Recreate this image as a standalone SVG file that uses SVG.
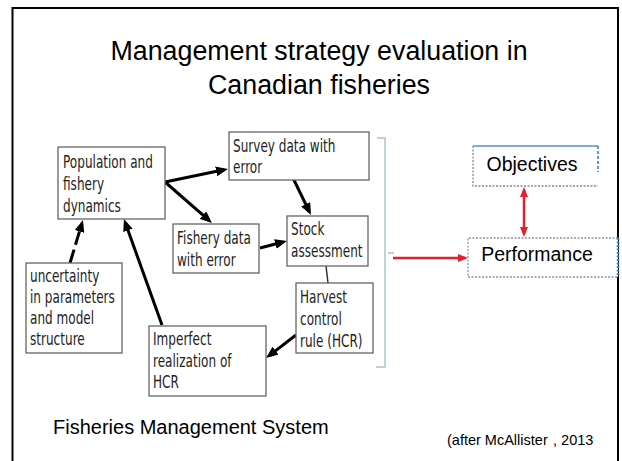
<svg xmlns="http://www.w3.org/2000/svg" width="622" height="461" viewBox="0 0 622 461">
<style>
.box{fill:#fff;stroke:#666;stroke-width:1.3}
.bt{font-family:"DejaVu Sans",Verdana,sans-serif;font-size:17px;fill:#222}
.ar{font-family:"Liberation Sans",Arial,sans-serif;fill:#000}
.con{stroke:#000;stroke-width:3;fill:none}
.red{stroke:#e3212b;stroke-width:2.5;fill:none}
</style>
<defs>
<marker id="ah" markerUnits="userSpaceOnUse" markerWidth="12" markerHeight="10" refX="8" refY="5" orient="auto" viewBox="0 0 12 10"><path d="M0,0 L12,5 L0,10 z" fill="#000"/></marker>
<marker id="rh" markerUnits="userSpaceOnUse" markerWidth="10" markerHeight="8" refX="7" refY="4" orient="auto-start-reverse" viewBox="0 0 10 8"><path d="M0,0 L10,4 L0,8 z" fill="#e3212b"/></marker>
</defs>
<rect width="622" height="461" fill="#fff"/>
<path d="M12.5,470 V8 H618 V470" fill="none" stroke="#000" stroke-width="2"/>
<g id="title" class="ar" font-size="26.8" text-anchor="middle">
<text x="319" y="60">Management strategy evaluation in</text>
<text x="319" y="94">Canadian fisheries</text>
</g>
<g id="connectors">
<line class="con" x1="165" y1="182" x2="224" y2="169.8" marker-end="url(#ah)"/>
<line class="con" x1="165" y1="182" x2="209" y2="220.4" marker-end="url(#ah)"/>
<line class="con" x1="293" y1="178" x2="309.2" y2="211.4" marker-end="url(#ah)"/>
<line class="con" x1="260" y1="248" x2="283.1" y2="242" marker-end="url(#ah)"/>
<line x1="326" y1="266" x2="328" y2="283" stroke="#333" stroke-width="1.5"/>
<line class="con" x1="296" y1="335" x2="269.2" y2="355.6" marker-end="url(#ah)"/>
<line class="con" x1="162" y1="325" x2="125.3" y2="222.8" marker-end="url(#ah)"/>
<line class="con" x1="70" y1="263" x2="81.8" y2="223.8" stroke-dasharray="14 5" marker-end="url(#ah)"/>
<path d="M377,138 H385 V367 H376" fill="none" stroke="#a9c6cc" stroke-width="1.5"/>
<path d="M388,253 H394" stroke="#aaa" stroke-width="1.2"/>
<line class="red" x1="393" y1="258" x2="465" y2="258" marker-end="url(#rh)"/>
<line class="red" x1="524" y1="190" x2="524" y2="234" marker-start="url(#rh)" marker-end="url(#rh)"/>
</g>
<g id="population">
<rect class="box" x="58" y="147" width="107" height="72"/>
<text class="bt" transform="translate(63,168) scale(0.71,1)">Population and</text>
<text class="bt" transform="translate(63,190) scale(0.71,1)">fishery</text>
<text class="bt" transform="translate(63,212) scale(0.71,1)">dynamics</text>
</g>
<g id="survey">
<rect class="box" x="229" y="132" width="140" height="48"/>
<text class="bt" transform="translate(233,152) scale(0.71,1)">Survey data with</text>
<text class="bt" transform="translate(233,173) scale(0.71,1)">error</text>
</g>
<g id="fishery">
<rect class="box" x="173" y="224" width="86" height="49"/>
<text class="bt" transform="translate(177,244) scale(0.71,1)">Fishery data</text>
<text class="bt" transform="translate(177,266) scale(0.71,1)">with error</text>
</g>
<g id="stock">
<rect class="box" x="287" y="216" width="81" height="50"/>
<text class="bt" transform="translate(291,235) scale(0.71,1)">Stock</text>
<text class="bt" transform="translate(291,257) scale(0.71,1)">assessment</text>
</g>
<g id="harvest">
<rect class="box" x="296" y="283" width="77" height="70"/>
<text class="bt" transform="translate(300,303) scale(0.71,1)">Harvest</text>
<text class="bt" transform="translate(300,325) scale(0.71,1)">control</text>
<text class="bt" transform="translate(300,347) scale(0.71,1)">rule (HCR)</text>
</g>
<g id="imperfect">
<rect class="box" x="149" y="326" width="117" height="70"/>
<text class="bt" transform="translate(153,345) scale(0.71,1)">Imperfect</text>
<text class="bt" transform="translate(153,367) scale(0.71,1)">realization of</text>
<text class="bt" transform="translate(153,388) scale(0.71,1)">HCR</text>
</g>
<g id="uncertainty">
<rect class="box" x="26" y="263" width="96" height="90"/>
<text class="bt" transform="translate(30,282) scale(0.71,1)">uncertainty</text>
<text class="bt" transform="translate(30,303) scale(0.71,1)">in parameters</text>
<text class="bt" transform="translate(30,324) scale(0.71,1)">and model</text>
<text class="bt" transform="translate(30,345) scale(0.71,1)">structure</text>
</g>
<g id="objectives">
<rect x="473" y="146" width="125" height="40" fill="#fff"/>
<path d="M473,146 H598" stroke="#5b8fc8" stroke-width="1.5"/>
<path d="M473,146 V186 H598" fill="none" stroke="#888" stroke-width="1.3" stroke-dasharray="2 1.5"/>
<path d="M598,146 V172" stroke="#2f75c0" stroke-width="1.5" stroke-dasharray="3 2"/>
<text class="ar" x="532" y="171" font-size="19.5" text-anchor="middle">Objectives</text>
</g>
<g id="performance">
<rect x="468" y="238" width="150" height="39" fill="#fff"/>
<path d="M618,238 H468 V277 H618" fill="none" stroke="#8896a8" stroke-width="1.3" stroke-dasharray="2 1.5"/>
<path d="M618,238 V277" stroke="#3a78c0" stroke-width="2.5" stroke-dasharray="2 1.5"/>
<text class="ar" x="537" y="261" font-size="19.5" text-anchor="middle">Performance</text>
</g>
<text class="ar" x="53" y="434" font-size="20">Fisheries Management System</text>
<text class="ar" x="447" y="445" font-size="14.5">(after McAllister<tspan x="549"> , 2013</tspan></text>
</svg>
